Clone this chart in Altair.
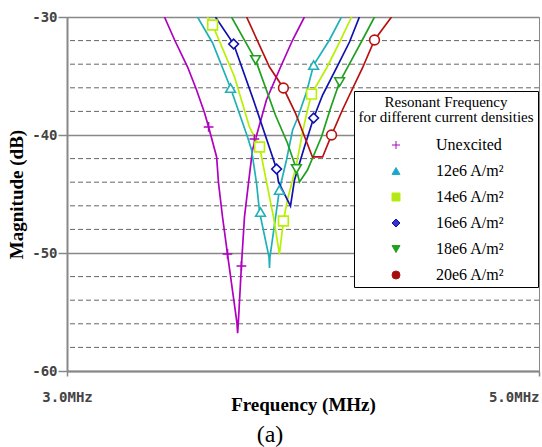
import altair as alt
import pandas as pd

# ---------------- data ----------------
series = ["Unexcited", "12e6 A/m²", "14e6 A/m²", "16e6 A/m²", "18e6 A/m²", "20e6 A/m²"]
line_colors = ["#b000c0", "#20b0b8", "#b8f000", "#1010b0", "#20a020", "#b81010"]
legend_colors = ["#c040c0", "#1ea0e0", "#b4e61e", "#3535c8", "#20a020", "#a01010"]
shapes = ["M-1,0H1M0,-1V1", "triangle-up", "square", "diamond", "triangle-down", "circle"]

# curves (frequency in MHz, magnitude in dB)
unexc_f = [3.413, 3.456, 3.511, 3.549, 3.583, 3.600, 3.634, 3.642, 3.659, 3.680, 3.701, 3.720,
           3.723, 3.726, 3.739, 3.752, 3.769, 3.786, 3.799, 3.845, 3.905, 3.956, 4.006]
unexc_db = [-30, -31.95, -34.24, -36.19, -38.14, -39.32, -41.86, -44.07, -46.95, -50.08, -53.14, -55.9,
            -56.8, -55.9, -51.10, -46.95, -44.07, -41.27, -40.34, -37.03, -34.24, -31.95, -30]

j12_f = [3.553, 3.617, 3.693, 3.765, 3.782, 3.803, 3.816, 3.856, 3.858, 3.860, 3.900, 3.930,
         3.956, 3.977, 4.015, 4.045, 4.112, 4.163]
j12_db = [-30, -32.20, -36.02, -40.17, -41.27, -44.07, -46.53, -50.34, -51.27, -50.34, -44.66, -42.12,
          -39.58, -38.56, -36.36, -34.07, -31.95, -30]

j14_f = [3.595, 3.617, 3.710, 3.773, 3.816, 3.875, 3.900, 3.917, 3.934, 3.972, 3.998, 4.019,
         4.036, 4.100, 4.155, 4.206]
j14_db = [-30, -30.68, -35.08, -39.32, -41.02, -46.95, -50.1, -47.29, -45.51, -42.54, -39.75, -37.88,
          -36.53, -34.32, -32.12, -30]

j16_f = [3.629, 3.706, 3.790, 3.837, 3.888, 3.896, 3.947, 3.964, 4.006, 4.045, 4.083, 4.142, 4.197, 4.239]
j16_db = [-30, -32.29, -37.03, -39.83, -42.88, -43.98, -46.02, -43.81, -41.02, -38.56, -36.61, -34.32,
          -32.12, -30]

j18_f = [3.697, 3.799, 3.883, 3.934, 3.972, 3.985, 4.019, 4.078, 4.117, 4.155, 4.206, 4.256, 4.303]
j18_db = [-30, -33.64, -38.31, -40.68, -42.88, -43.98, -42.97, -40.17, -37.71, -35.51, -33.64, -31.78, -30]

j20_f = [3.761, 3.858, 3.917, 3.968, 4.040, 4.083, 4.121, 4.167, 4.197, 4.252, 4.303, 4.375]
j20_db = [-30, -34.24, -36.02, -38.14, -41.86, -41.86, -40.0, -37.88, -36.61, -34.32, -31.95, -30]

# marker positions
mk_unexc_f = [3.600, 3.680, 3.739, 3.794]
mk_unexc_db = [-39.32, -50.08, -51.10, -40.34]
mk_j12_f = [3.693, 3.820, 3.900, 4.045]
mk_j12_db = [-36.02, -46.53, -44.66, -34.07]
mk_j14_f = [3.617, 3.816, 3.917, 4.036]
mk_j14_db = [-30.68, -41.02, -47.29, -36.53]
mk_j16_f = [3.706, 3.888, 4.045]
mk_j16_db = [-32.29, -42.88, -38.56]
mk_j18_f = [3.799, 3.972, 4.155]
mk_j18_db = [-33.64, -42.88, -35.51]
mk_j20_f = [3.917, 4.121, 4.303]
mk_j20_db = [-36.02, -40.0, -31.95]

y_major = [-60, -50, -40, -30]
y_minor = [-58, -56, -54, -52, -48, -46, -44, -42, -38, -36, -34, -32]
x_ticks = [3.0, 5.0]

# ---------------- tables ----------------
line_f = [unexc_f, j12_f, j14_f, j16_f, j18_f, j20_f]
line_db = [unexc_db, j12_db, j14_db, j16_db, j18_db, j20_db]
mk_f = [mk_unexc_f, mk_j12_f, mk_j14_f, mk_j16_f, mk_j18_f, mk_j20_f]
mk_db = [mk_unexc_db, mk_j12_db, mk_j14_db, mk_j16_db, mk_j18_db, mk_j20_db]

rows = []
for s, fs, ds in zip(series, line_f, line_db):
    for i, (f, d) in enumerate(zip(fs, ds)):
        rows.append({"series": s, "freq": f, "db": d, "order": i})
lines_df = pd.DataFrame(rows)

mrows = []
for s, fs, ds in zip(series, mk_f, mk_db):
    for f, d in zip(fs, ds):
        mrows.append({"series": s, "freq": f, "db": d})
markers_df = pd.DataFrame(mrows)

minor_df = pd.DataFrame({"db": y_minor})
legend_df = pd.DataFrame({"series": series})

# ---------------- scales ----------------
xscale = alt.Scale(domain=[3, 5], nice=False, zero=False)
yscale = alt.Scale(domain=[-60, -30], nice=False, zero=False)
stroke_scale = alt.Scale(domain=series, range=line_colors)
fill_scale = alt.Scale(domain=series, range=legend_colors)
shape_scale = alt.Scale(domain=series, range=shapes)

mono = "DejaVu Sans Mono"
serif = "Liberation Serif"

xaxis = alt.Axis(
    values=x_ticks, grid=False, title="Frequency (MHz)",
    labelExpr="format(datum.value, '.1f') + 'MHz'",
    labelAlign={"condition": {"test": "datum.value >= 5", "value": "right"}, "value": "center"},
    labelFont=mono, labelFontWeight="bold", labelFontSize=14, labelColor="#444444",
    labelPadding=14, tickSize=5, tickColor="#888888", tickWidth=1.5,
    domainColor="#888888", domainWidth=2,
    titleFont=serif, titleFontSize=19, titleFontWeight="bold", titleColor="black",
    titleY=39, titleBaseline="alphabetic",
)
yaxis = alt.Axis(
    values=y_major, grid=True, gridColor="#888888", gridWidth=1.5,
    title="Magnitude (dB)",
    labelExpr="'' + datum.value",
    labelFont=mono, labelFontWeight="bold", labelFontSize=14, labelColor="#444444",
    labelPadding=1, tickSize=9, tickColor="#888888", tickWidth=1.5,
    domainColor="#888888", domainWidth=2,
    titleFont=serif, titleFontSize=19, titleFontWeight="bold", titleColor="black",
    titlePadding=5,
)

legend_title = ["Resonant Frequency", "for different current densities"]


def make_legend():
    return alt.Legend(
        title=legend_title, orient="none", legendX=287, legendY=74, direction="vertical",
        fillColor="white", strokeColor="black", padding=4,
        titleFont=serif, titleFontSize=15, titleFontWeight="normal", titleColor="black",
        titleLineHeight=15, titleAnchor="middle", titleAlign="center", titlePadding=12,
        labelFont=serif, labelFontSize=16, labelColor="black",
        labelOffset=32, rowPadding=10, symbolSize=64, symbolStrokeWidth=1,
    )


minor = alt.Chart(minor_df).mark_rule(color="#666666", strokeWidth=1, strokeDash=[5, 3]).encode(
    y=alt.Y("db:Q", scale=yscale, axis=yaxis),
)

lines = alt.Chart(lines_df).mark_line(strokeWidth=1.7, clip=True).encode(
    x=alt.X("freq:Q", scale=xscale, axis=xaxis),
    y=alt.Y("db:Q", scale=yscale, axis=yaxis),
    stroke=alt.Stroke("series:N", scale=stroke_scale, legend=None),
    order="order:Q",
)

markers = alt.Chart(markers_df).mark_point(
    size=95, strokeWidth=1.6, opacity=1, fill="white", clip=True
).encode(
    x=alt.X("freq:Q", scale=xscale, axis=xaxis),
    y=alt.Y("db:Q", scale=yscale, axis=yaxis),
    stroke=alt.Stroke("series:N", scale=stroke_scale, legend=None),
    shape=alt.Shape("series:N", scale=shape_scale, legend=None),
)

legend_layer = alt.Chart(legend_df).mark_point(
    filled=True, size=64, opacity=1, strokeWidth=1
).encode(
    fill=alt.Fill("series:N", scale=fill_scale, legend=make_legend()),
    shape=alt.Shape("series:N", scale=shape_scale, legend=make_legend()),
    stroke=alt.Stroke("series:N", scale=stroke_scale, legend=make_legend()),
).transform_filter("false")

chart = alt.layer(minor, lines, markers, legend_layer).resolve_legend(
    stroke="independent", shape="independent", fill="independent"
).properties(
    width=472, height=354,
    padding={"left": 67, "top": 17, "right": 3, "bottom": 76},
    autosize=alt.AutoSizeParams(type="none"),
    title=alt.TitleParams("(a)", orient="bottom", font=serif, fontSize=24, fontWeight="normal",
                          color="black", offset=9, anchor="middle", dx=-33),
).configure_view(
    stroke="#888888", strokeWidth=1
)

chart.save("out.html", embed_options={"renderer": "svg", "actions": False})
